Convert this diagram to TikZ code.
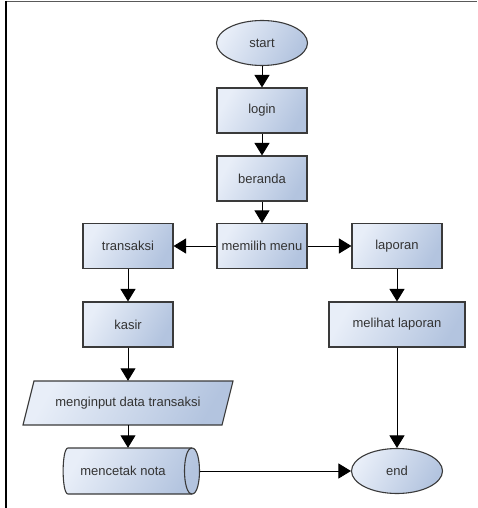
\documentclass[tikz,border=0pt]{standalone}
\usepackage{fontspec}
\setmainfont{Liberation Sans}
\usetikzlibrary{shapes.geometric,arrows.meta}
\definecolor{fillL}{HTML}{E8EEF8}
\definecolor{fillR}{HTML}{B3C4DF}
\definecolor{edgec}{HTML}{3A3A3A}
\definecolor{txt}{HTML}{333333}
\begin{document}
\begin{tikzpicture}[x=1pt,y=-1pt,
  lbl/.style={font=\fontsize{13}{15}\selectfont,text=txt,inner sep=0pt},
  base/.style={lbl,draw=edgec,line width=1.1pt,left color=fillL,right color=fillR,shading angle=60},
  proc/.style={base,rectangle,minimum width=90pt,minimum height=45pt},
  term/.style={base,ellipse,minimum width=91pt,minimum height=45pt},
  arr/.style={draw=black,line width=0.9pt,-{Triangle[width=15pt,length=12.5pt]}}]
\useasboundingbox (0,0) rectangle (477,508);
\draw[gray!70!black,line width=1.5pt] (6,1.5) -- (477,1.5);
\draw[black,line width=1.3pt] (6,1) -- (6,508);

\node[term] (start) at (262,43) {start};
\node[proc] (login) at (262,110.5) {login};
\node[proc] (beranda) at (262,178.5) {beranda};
\node[proc] (menu) at (262,246) {memilih menu};
\node[proc] (transaksi) at (128,246) {transaksi};
\node[proc] (laporan) at (397,246) {laporan};
\node[proc] (kasir) at (128,324.5) {kasir};
\node[proc,minimum width=136pt] (melihat) at (397,324.5) {melihat laporan};
% parallelogram (data)
\shade[base] (23,425) -- (34,381) -- (233,381) -- (222,425) -- cycle;
\node[lbl,minimum width=200pt,minimum height=44pt] (input) at (128,403) {menginput data transaksi};
% horizontal cylinder (stored data)
\shade[base] (68,448) -- (192,448) .. controls (202,448) and (202,494) .. (192,494)
  -- (68,494) .. controls (61.5,494) and (61.5,448) .. (68,448) -- cycle;
\draw[draw=edgec,line width=1.1pt] (192,448) .. controls (182,448) and (182,494) .. (192,494);
\node[lbl,minimum height=46pt] (cetak) at (123,471) {mencetak nota};
\coordinate (cetakE) at (199.5,471);
\node[term] (end) at (397,471) {end};

\draw[arr] (start) -- (login);
\draw[arr] (login) -- (beranda);
\draw[arr] (beranda) -- (menu);
\draw[arr] (menu) -- (transaksi);
\draw[arr] (menu) -- (laporan);
\draw[arr] (transaksi) -- (kasir);
\draw[arr] (laporan) -- (melihat);
\draw[arr] (kasir) -- (input);
\draw[arr] (input) -- (input.south |- cetak.north);
\draw[arr] (melihat) -- (end);
\draw[arr] (cetakE) -- (end.west);
\end{tikzpicture}
\end{document}
